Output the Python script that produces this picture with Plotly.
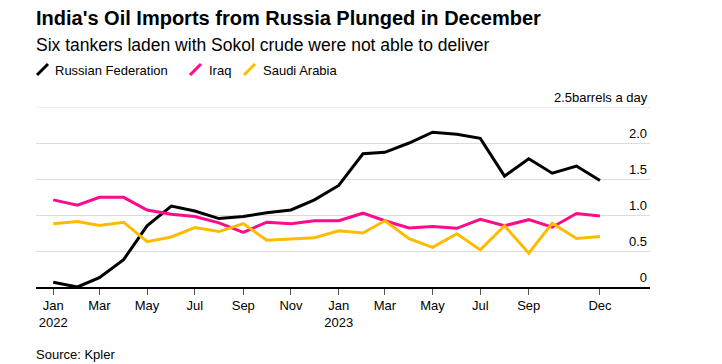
import plotly.graph_objects as go

months = [f"{y}-{m:02d}-01" for y in (2022, 2023) for m in range(1, 13)]

russia = [0.065, 0.0, 0.13, 0.38, 0.85, 1.125, 1.055, 0.95, 0.98, 1.03, 1.07, 1.21,
          1.41, 1.85, 1.87, 2.0, 2.15, 2.12, 2.065, 1.54, 1.78, 1.58, 1.68, 1.48]
iraq = [1.21, 1.135, 1.245, 1.245, 1.07, 1.01, 0.98, 0.89, 0.76, 0.90, 0.88, 0.92,
        0.92, 1.025, 0.92, 0.82, 0.84, 0.815, 0.94, 0.85, 0.935, 0.83, 1.02, 0.985]
saudi = [0.88, 0.91, 0.855, 0.90, 0.63, 0.695, 0.825, 0.77, 0.88, 0.65, 0.665, 0.685,
         0.78, 0.75, 0.92, 0.67, 0.55, 0.74, 0.515, 0.85, 0.47, 0.885, 0.675, 0.70]

series_names = ["Russian Federation", "Iraq", "Saudi Arabia"]
series_colors = ["#000000", "#ff0a8c", "#ffbb00"]

x_tickvals = ["2022-01-01", "2022-03-01", "2022-05-01", "2022-07-01", "2022-09-01",
              "2022-11-01", "2023-01-01", "2023-03-01", "2023-05-01", "2023-07-01",
              "2023-09-01", "2023-12-01"]
x_ticktext = ["Jan<br>2022", "Mar", "May", "Jul", "Sep", "Nov", "Jan<br>2023",
              "Mar", "May", "Jul", "Sep", "Dec"]
y_tickvals = [0, 0.5, 1.0, 1.5, 2.0, 2.5]
y_ticktext = ["0", "0.5", "1.0", "1.5", "2.0", ""]
y_unit_label = "2.5barrels a day"

FONT = "Liberation Sans, Arial, sans-serif"

fig = go.Figure()
for name, vals, col in zip(series_names, [russia, iraq, saudi], series_colors):
    fig.add_trace(go.Scatter(x=months, y=vals, mode="lines", name=name,
                             line=dict(color=col, width=3), showlegend=False))

L, R, T, B = 36, 72, 107, 77
W, H = 722, 364
pw, ph = W - L - R, H - T - B


def px(x):
    return (x - L) / pw


def py(y):
    return (H - B - y) / ph


annotations = [
    dict(text="<b>India's Oil Imports from Russia Plunged in December</b>", x=px(34), y=py(18),
         xanchor="left", yanchor="middle", font=dict(size=20, color="#000")),
    dict(text="Six tankers laden with Sokol crude were not able to deliver", x=px(34), y=py(45),
         xanchor="left", yanchor="middle", font=dict(size=17.5, color="#000")),
    dict(text="Source: Kpler", x=px(34), y=py(354),
         xanchor="left", yanchor="middle", font=dict(size=13, color="#000")),
    dict(text=y_unit_label, x=1, y=y_tickvals[-1], yref="y", xanchor="right",
         yanchor="bottom", font=dict(size=13, color="#000")),
]
shapes = [dict(type="line", xref="paper", yref="y", x0=0, x1=1,
               y0=y_tickvals[-1], y1=y_tickvals[-1], line=dict(color="#dcdcdc", width=1),
               layer="below")]
legend_pos = [(36, 54), (189, 208), (243, 262)]
for (sx, tx), name, col in zip(legend_pos, series_names, series_colors):
    shapes.append(dict(type="line", xref="paper", yref="paper",
                       x0=px(sx + 1), y0=py(75), x1=px(sx + 12), y1=py(64),
                       line=dict(color=col, width=3)))
    annotations.append(dict(text=name, x=px(tx - 1), y=py(70), xanchor="left",
                            yanchor="middle", font=dict(size=13, color="#000")))
for a in annotations:
    a.setdefault("xref", "paper")
    a.setdefault("yref", "paper")
    a["showarrow"] = False

fig.update_layout(
    width=W, height=H,
    margin=dict(l=L, r=R, t=T, b=B, autoexpand=False),
    paper_bgcolor="white", plot_bgcolor="white",
    font=dict(family=FONT, color="#000", size=13),
    annotations=annotations, shapes=shapes,
    xaxis=dict(type="date", range=["2021-12-10", "2024-02-03"],
               tickvals=x_tickvals, ticktext=x_ticktext, automargin=False,
               ticks="outside", ticklen=6, tickcolor="#555", tickwidth=1,
               showline=True, linecolor="#000", linewidth=1.5,
               showgrid=False, zeroline=False,
               tickfont=dict(size=13, color="#000")),
    yaxis=dict(range=[0, 2.5], side="right", tickvals=y_tickvals, ticktext=y_ticktext,
               ticklabelposition="inside top", showgrid=True, gridcolor="#dcdcdc",
               gridwidth=1, zeroline=False, showline=False, ticks="", automargin=False,
               tickfont=dict(size=13, color="#000")),
)

fig.write_html("out.html", config={"displayModeBar": False},
               post_script="document.body.style.margin='0';")
